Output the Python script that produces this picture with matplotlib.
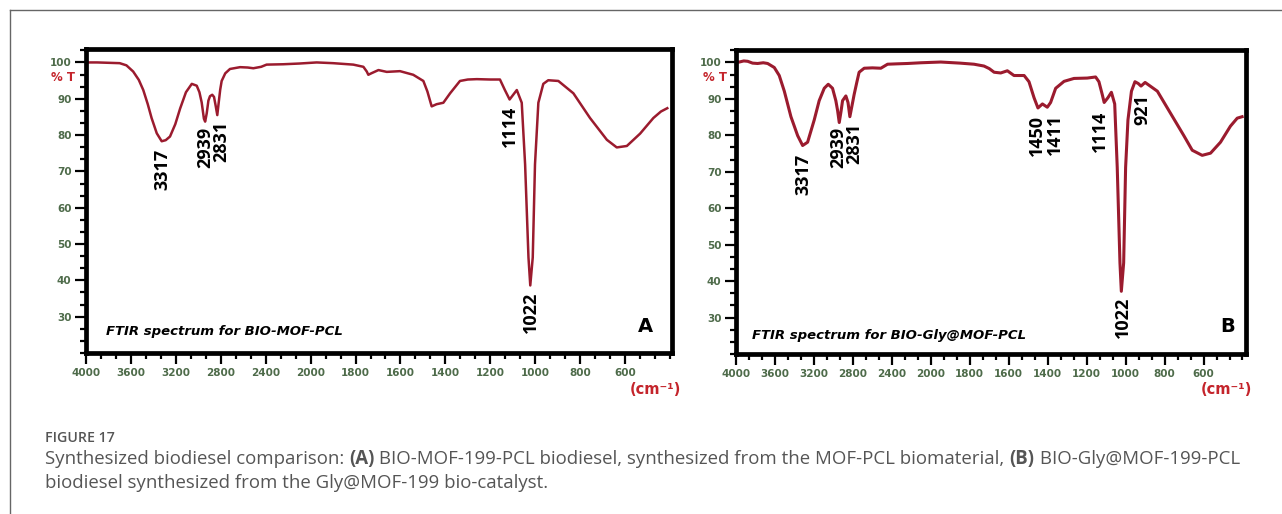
import numpy as np
import matplotlib
matplotlib.use("Agg")
import matplotlib.pyplot as plt
from matplotlib.lines import Line2D
from matplotlib.transforms import blended_transform_factory

# ---- spectrum A: BIO-MOF-PCL (wavenumber cm-1, %T) ----
wn_a = [4000, 3900, 3800, 3700, 3640, 3580, 3530, 3490, 3450, 3416, 3370, 3326,
        3290, 3252, 3205, 3162, 3110, 3058, 3014, 2990, 2970, 2950, 2939, 2925,
        2910, 2896, 2876, 2860, 2845, 2831, 2820, 2805, 2792, 2760, 2718, 2628,
        2560, 2510, 2440, 2392, 2244, 2100, 1973, 1900, 1810, 1765, 1750, 1743,
        1730, 1698, 1661, 1602, 1543, 1498, 1480, 1461, 1439, 1409, 1379, 1335,
        1300, 1260, 1200, 1157, 1135, 1114, 1082, 1060, 1045, 1030, 1022, 1011,
        1001, 986, 964, 942, 897, 830, 756, 681, 637, 592, 533, 474, 440, 412]
tr_a = [100.0, 100.0, 99.9, 99.8, 99.2, 97.5, 95.2, 92.4, 88.5, 84.7, 80.5, 78.3,
        78.6, 79.6, 83.0, 87.3, 91.8, 94.1, 93.6, 91.8, 89.0, 84.5, 83.7, 86.0,
        89.5, 90.7, 91.1, 90.5, 88.0, 85.5, 88.5, 92.5, 94.9, 97.0, 98.2, 98.7,
        98.6, 98.4, 98.8, 99.4, 99.5, 99.7, 100.0, 99.8, 99.4, 98.8, 97.5, 96.6,
        97.0, 97.9, 97.4, 97.6, 96.6, 94.9, 92.0, 87.9, 88.5, 88.9, 91.5, 94.9,
        95.3, 95.4, 95.3, 95.3, 92.4, 89.8, 92.4, 88.9, 71.9, 46.3, 38.6, 46.3,
        71.9, 88.9, 94.1, 95.1, 94.9, 91.5, 84.7, 78.7, 76.6, 77.0, 80.4, 84.7,
        86.5, 87.4]

# ---- spectrum B: BIO-Gly@MOF-PCL ----
wn_b = [4000, 3966, 3920, 3880, 3830, 3778, 3720, 3675, 3607, 3556, 3504, 3436,
        3367, 3316, 3265, 3197, 3146, 3094, 3053, 3009, 2975, 2957, 2940, 2922,
        2906, 2872, 2850, 2831, 2810, 2787, 2760, 2736, 2684, 2600, 2513, 2444,
        2350, 2239, 2100, 1949, 1850, 1778, 1727, 1700, 1675, 1641, 1607, 1573,
        1521, 1496, 1470, 1450, 1427, 1402, 1385, 1359, 1316, 1265, 1197, 1154,
        1137, 1120, 1110, 1091, 1073, 1056, 1043, 1029, 1022, 1010, 1000, 988,
        970, 952, 935, 921, 900, 837, 769, 701, 658, 607, 564, 513, 462, 427, 402]
tr_b = [100.0, 100.1, 100.4, 100.3, 99.8, 99.7, 99.9, 99.7, 98.6, 96.4, 92.1, 85.1,
        79.9, 77.2, 78.1, 84.2, 89.5, 92.9, 94.0, 92.9, 89.5, 86.8, 83.5, 86.5,
        89.5, 90.8, 89.0, 85.1, 88.0, 91.2, 94.5, 97.3, 98.4, 98.5, 98.4, 99.5,
        99.6, 99.7, 99.9, 100.1, 99.8, 99.5, 99.0, 98.3, 97.3, 97.1, 97.7, 96.4,
        96.4, 94.7, 90.3, 87.5, 88.6, 87.7, 89.0, 92.9, 94.8, 95.6, 95.7, 96.0,
        94.7, 91.2, 89.0, 90.3, 91.8, 88.6, 71.2, 45.0, 37.2, 45.0, 71.2, 84.2,
        92.1, 94.7, 94.2, 93.5, 94.5, 92.1, 86.0, 79.9, 75.9, 74.5, 75.1, 78.1,
        82.5, 84.7, 85.1]

# peak labels: text, label x (cm-1), label top (%T)
peaks_a = [("3317", 3317, 76.2), ("2939", 2938, 82.3), ("2831", 2795, 83.9),
           ("1114", 1114, 88.0), ("1022", 1020, 36.8)]
peaks_b = [("3317", 3310, 74.9), ("2939", 2950, 82.3), ("2831", 2787, 83.5),
           ("1450", 1453, 85.5), ("1411", 1364, 85.8), ("1114", 1132, 86.8),
           ("1022", 1014, 35.8), ("921", 914, 91.2)]

x_major = [4000, 3600, 3200, 2800, 2400, 2000, 1800, 1600, 1400, 1200, 1000, 800, 600]
y_major = [30, 40, 50, 60, 70, 80, 90, 100]

LINE = "#9b1b2e"
TICK = "#4e6b4a"
RED = "#c4242b"
GREY = "#555555"

W, H = 1282, 514


def fwd(x):
    # FTIR axis: half scale above 2000 cm-1
    x = np.asarray(x, dtype=float)
    return np.where(x > 2000, 2000 + (x - 2000) / 2, x)


def inv(t):
    t = np.asarray(t, dtype=float)
    return np.where(t > 2000, 2000 + (t - 2000) * 2, t)


def panel(fig, rect, wn, tr, peaks, xlim, ylim, title, letter, letter_xy, title_xy, lw):
    ax = fig.add_axes(rect)
    ax.set_xscale("function", functions=(fwd, inv))
    ax.plot(wn, tr, color=LINE, lw=lw, solid_joinstyle="round")
    ax.set_xlim(*xlim)
    ax.set_ylim(*ylim)

    minor_x = list(np.arange(4000, 2000, -400 / 3)) + list(np.arange(2000, 380, -200 / 3))
    ax.set_xticks(x_major, [str(v) for v in x_major])
    ax.set_xticks(minor_x, minor=True)
    ax.set_yticks(y_major, [str(v) for v in y_major])
    ax.set_yticks(np.arange(20, 105, 10 / 3), minor=True)

    for sp in ax.spines.values():
        sp.set_linewidth(3.4)
        sp.set_color("black")
    ax.tick_params(which="major", direction="out", length=8, width=1.6,
                   color="black", labelcolor=TICK, labelsize=7.5, pad=2.5)
    ax.tick_params(which="minor", direction="out", length=4.5, width=1.6, color="black")
    for lbl in ax.get_xticklabels() + ax.get_yticklabels():
        lbl.set_fontweight("bold")

    for txt, x, y in peaks:
        ax.text(x, y, txt, rotation=90, ha="center", va="top", fontsize=13,
                fontweight="bold", family="Open Sans", color="black")

    ax.text(title_xy[0], title_xy[1], title, transform=ax.transAxes, ha="left",
            va="center", fontsize=9.5, fontweight="bold", fontstyle="italic",
            color="black")
    ax.text(letter_xy[0], letter_xy[1], letter, transform=ax.transAxes, ha="center",
            va="center", fontsize=14, fontweight="bold", color="black")

    trans = blended_transform_factory(ax.transAxes, ax.transData)
    ax.text(-0.018, 95.9, "% T", transform=trans, ha="right", va="center",
            fontsize=8.5, fontweight="bold", color=RED)
    return ax


fig = plt.figure(figsize=(W / 100, H / 100), dpi=100)
fig.patch.set_facecolor("white")

panel(fig, [86 / W, 1 - 353 / H, 586 / W, 304 / H], wn_a, tr_a, peaks_a,
      (4000, 391), (25.9, 103.7), "FTIR spectrum for BIO-MOF-PCL", "A",
      (0.954, 0.087), (0.034, 0.07), 1.8)
panel(fig, [736 / W, 1 - 354 / H, 510 / W, 304 / H], wn_b, tr_b, peaks_b,
      (4000, 382), (24.2, 103.4), "FTIR spectrum for BIO-Gly@MOF-PCL", "B",
      (0.963, 0.09), (0.031, 0.0625), 2.2)

for xc in (655, 1226):
    fig.text(xc / W, 1 - 390 / H, "(cm\u207b\u00b9)", ha="center", va="center",
             fontsize=10.5, fontweight="bold", color=RED)

# page frame
fig.add_artist(Line2D([10 / W, 10 / W], [0, 1 - 10 / H], color="#666666", lw=1))
fig.add_artist(Line2D([10 / W, 1], [1 - 10 / H, 1 - 10 / H], color="#666666", lw=1))

# caption
cap = dict(family="Open Sans", color=GREY, va="center")
fig.text(45 / W, 1 - 438 / H, "FIGURE 17", fontsize=10.2, fontweight="semibold", **cap)

renderer = fig.canvas.get_renderer()


def write_line(x_px, y_px, parts, size):
    x = x_px / W
    for s, weight in parts:
        t = fig.text(x, 1 - y_px / H, s, fontsize=size, fontweight=weight, **cap)
        bb = t.get_window_extent(renderer)
        x += bb.width / W


line1 = [("Synthesized biodiesel comparison: ", "normal"), ("(A)", "bold"),
         (" BIO-MOF-199-PCL biodiesel, synthesized from the MOF-PCL biomaterial, ", "normal"),
         ("(B)", "bold"), (" BIO-Gly@MOF-199-PCL", "normal")]
line2 = [("biodiesel synthesized from the Gly@MOF-199 bio-catalyst.", "normal")]
write_line(45, 459, line1, 13.4)
write_line(45, 483, line2, 13.4)

fig.savefig("out.png", dpi=100)
